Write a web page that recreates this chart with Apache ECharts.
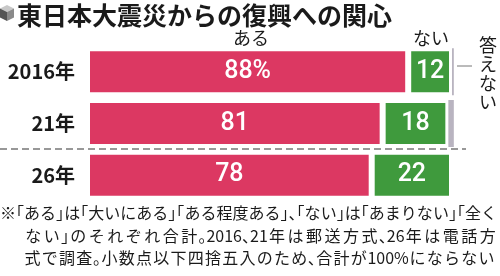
<!DOCTYPE html>
<html><head><meta charset="utf-8">
<script src="https://cdn.jsdelivr.net/npm/echarts@6/dist/echarts.min.js"></script>
<style>html,body{margin:0;padding:0;background:#fff}#c{width:500px;height:276px}</style>
</head><body><div id="c"></div>
<script>
const title = '東日本大震災からの復興への関心';
const categories = ['2016年', '21年', '26年'];
const aruValues = [88, 81, 78];
const naiValues = [12, 18, 22];
const noAnswerValues = [0.5, 1.5, 0];
const headerAru = 'ある';
const headerNai = 'ない';
const headerNoAnswer = '答えない';
const noteLines = [
  '※「ある」は「大いにある」「ある程度ある」、「ない」は「あまりない」「全く',
  'ない」のそれぞれ合計。2016、21年は郵送方式、26年は電話方',
  '式で調査。小数点以下四捨五入のため、合計が100%にならない'
];

const RED = '#dc3862', GREEN = '#3f9a3d', GRAY = '#b9b4c0';
const JP = '"Noto Sans CJK JP", sans-serif';

// justified footnote lines, one text element per glyph (layout only)
const NOTE_FS = 16, PUNCT = 8;
const mctx = document.createElement('canvas').getContext('2d');
mctx.font = NOTE_FS + 'px ' + JP;
function kind(ch) {
  if (ch === '「') return 'open';
  if ('」、。'.indexOf(ch) >= 0) return 'close';
  if (/[0-9%]/.test(ch)) return 'latin';
  return 'cjk';
}
function noteLine(text, x0, right, y) {
  const chars = text.split('');
  let fixed = 0, nCjk = 0;
  chars.forEach(c => {
    const k = kind(c);
    if (k === 'cjk') nCjk++;
    else if (k === 'latin') fixed += mctx.measureText(c).width;
    else fixed += PUNCT;
  });
  const W = (right - x0 - fixed) / nCjk;
  const els = [];
  let x = x0;
  chars.forEach(c => {
    const k = kind(c);
    let drawX = x, adv;
    if (k === 'cjk') { adv = W; drawX = x + (W - NOTE_FS) / 2; }
    else if (k === 'latin') adv = mctx.measureText(c).width;
    else if (k === 'open') { adv = PUNCT; drawX = x - (NOTE_FS - PUNCT); }
    else adv = PUNCT;
    els.push({type: 'text', x: drawX, y: y, silent: true,
      style: {text: c, font: NOTE_FS + 'px ' + JP, fill: '#1a1a1a', verticalAlign: 'middle'}});
    x += adv;
  });
  return els;
}

const chart = echarts.init(document.getElementById('c'), null, {renderer: 'canvas'});
const valueLabel = {
  show: true, position: 'inside', color: '#fff',
  fontFamily: 'Roboto, sans-serif', fontSize: 25, fontWeight: 500
};
chart.setOption({
  animation: false,
  grid: {left: 87, right: 48, top: 46, height: 155},
  xAxis: {type: 'value', min: 0, max: 100, show: false},
  yAxis: {
    type: 'category', data: categories, inverse: true,
    axisLine: {show: false}, axisTick: {show: false},
    axisLabel: {color: '#1a1a1a', fontFamily: JP, fontSize: 20, fontWeight: 'bold', margin: 12}
  },
  series: [
    {type: 'bar', stack: 's', data: aruValues, barWidth: 47, clip: false,
     itemStyle: {color: RED, borderColor: '#fff', borderWidth: 3},
     label: Object.assign({}, valueLabel, {formatter: p => p.dataIndex === 0 ? p.value + '%' : String(p.value)})},
    {type: 'bar', stack: 's', data: naiValues, barWidth: 47, clip: false,
     itemStyle: {color: GREEN, borderColor: '#fff', borderWidth: 3},
     label: Object.assign({}, valueLabel, {formatter: p => String(p.value)})},
    {type: 'bar', stack: 's', data: noAnswerValues, barWidth: 44, clip: false,
     itemStyle: {color: GRAY, borderWidth: 0}}
  ],
  graphic: [
    {type: 'polygon', shape: {points: [[7, 5], [14, 8.5], [7, 12], [0, 8.5]]}, style: {fill: '#c8c8c8'}},
    {type: 'polygon', shape: {points: [[0, 8.5], [7, 12], [7, 21], [0, 17.5]]}, style: {fill: '#555'}},
    {type: 'polygon', shape: {points: [[7, 12], [14, 8.5], [14, 17.5], [7, 21]]}, style: {fill: '#8a8a8a'}},
    {type: 'text', x: 17, y: 15, style: {text: title, font: 'bold 25px ' + JP, fill: '#1a1a1a', verticalAlign: 'middle'}},
    {type: 'text', x: 251, y: 38, style: {text: headerAru, font: '18px ' + JP, fill: '#1a1a1a', align: 'center', verticalAlign: 'middle'}},
    {type: 'text', x: 431, y: 38, style: {text: headerNai, font: '18px ' + JP, fill: '#1a1a1a', align: 'center', verticalAlign: 'middle'}},
    {type: 'line', shape: {x1: 457, y1: 66, x2: 472, y2: 66}, style: {stroke: '#777', lineWidth: 1}},
    {type: 'text', x: 488, y: 36, style: {text: headerNoAnswer.split('').join('\n'), font: '18px ' + JP, lineHeight: 19, fill: '#1a1a1a', align: 'center', verticalAlign: 'top'}},
    {type: 'line', shape: {x1: 0, y1: 149, x2: 466, y2: 149}, style: {stroke: '#333', lineWidth: 1.2, lineDash: [7, 4]}}
  ].concat(noteLine(noteLines[0], 0, 497, 213), noteLine(noteLines[1], 24, 497, 236), noteLine(noteLines[2], 24, 495, 258))
});
</script></body></html>
